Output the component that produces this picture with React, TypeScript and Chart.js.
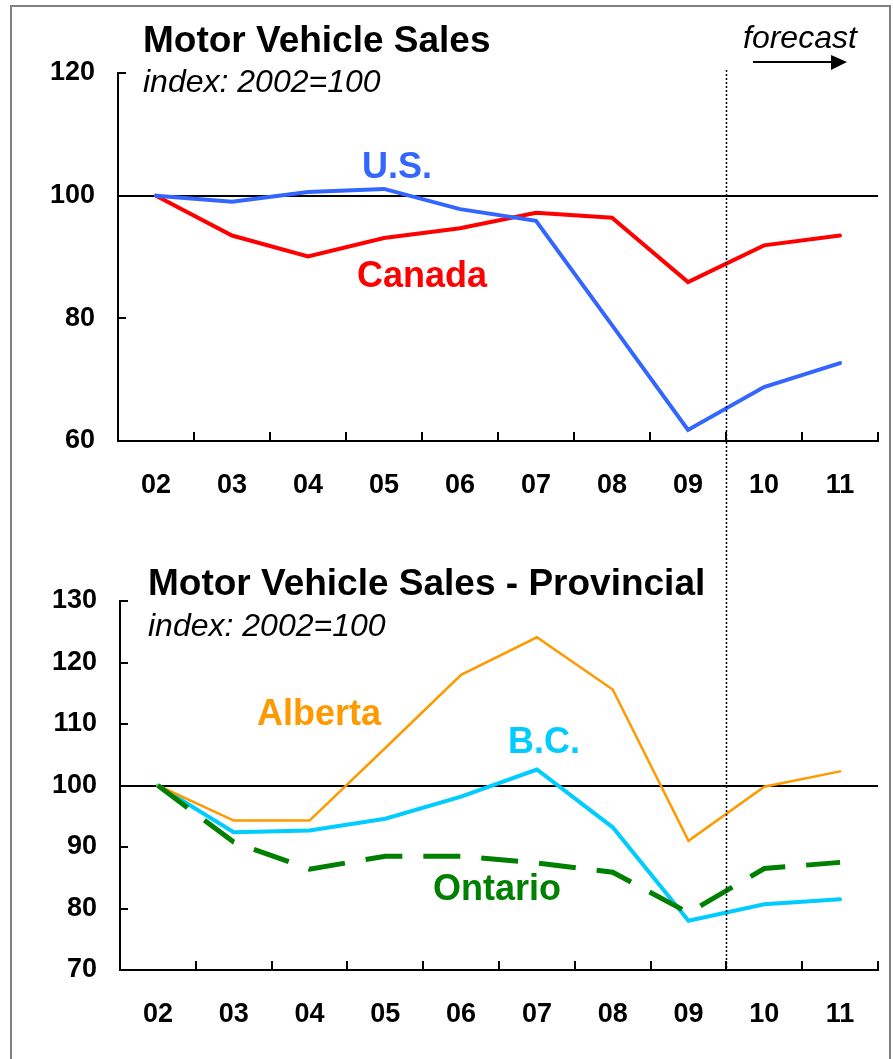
import React, { useEffect, useRef } from "react";
import { Chart, registerables } from "chart.js";

Chart.register(...registerables);

const years = ["02", "03", "04", "05", "06", "07", "08", "09", "10", "11"];
const usSales = [100, 99.0, 100.6, 101.1, 97.8, 95.9, 78.9, 61.8, 68.8, 72.7];
const canadaSales = [100, 93.5, 90.1, 93.1, 94.7, 97.2, 96.4, 85.9, 91.9, 93.5];
const albertaSales = [100, 94.3, 94.3, 106.1, 118.0, 124.1, 115.6, 91.0, 99.8, 102.3];
const bcSales = [100, 92.4, 92.7, 94.6, 98.2, 102.6, 93.2, 78.0, 80.7, 81.5];
const ontarioSales = [100, 90.8, 86.4, 88.5, 88.5, 87.4, 85.9, 79.3, 86.5, 87.5];
const topTicks = { min: 60, max: 120, step: 20 };
const provTicks = { min: 70, max: 130, step: 10 };
const forecastStartIndex = 8;

const FONT = '"Liberation Sans", Arial, sans-serif';
const BLUE = "#3366FF";
const RED = "#FF0000";
const ORANGE = "#FF9900";
const CYAN = "#00CCFF";
const GREEN = "#008000";

type TextItem = { text: string; x: number; y: number; font: string; color: string };

function makeDecor(texts: TextItem[], dottedTop: number | null, arrow: boolean) {
  return {
    id: "decor",
    afterDatasetsDraw(chart: any) {
      const ctx = chart.ctx;
      const xs = chart.scales.x;
      const area = chart.chartArea;
      ctx.save();
      const xd = Math.round((xs.getPixelForValue(forecastStartIndex - 1) + xs.getPixelForValue(forecastStartIndex)) / 2) + 0.5;
      ctx.strokeStyle = "#000";
      ctx.lineWidth = 1.5;
      ctx.setLineDash([2, 2]);
      ctx.beginPath();
      if (dottedTop !== null) {
        ctx.moveTo(xd, dottedTop);
        ctx.lineTo(xd, chart.height);
      } else {
        ctx.moveTo(xd, 0);
        ctx.lineTo(xd, area.bottom);
      }
      ctx.stroke();
      ctx.setLineDash([]);
      for (const t of texts) {
        ctx.font = t.font;
        ctx.fillStyle = t.color;
        ctx.textAlign = "left";
        ctx.textBaseline = "alphabetic";
        ctx.fillText(t.text, t.x, t.y);
      }
      if (arrow) {
        ctx.strokeStyle = "#000";
        ctx.fillStyle = "#000";
        ctx.lineWidth = 2;
        ctx.beginPath();
        ctx.moveTo(753, 62);
        ctx.lineTo(834, 62);
        ctx.stroke();
        ctx.beginPath();
        ctx.moveTo(831, 55);
        ctx.lineTo(847, 62);
        ctx.lineTo(831, 70);
        ctx.closePath();
        ctx.fill();
      }
      ctx.restore();
    },
  };
}

function makeConfig(
  datasets: any[],
  ticks: { min: number; max: number; step: number },
  axisWidth: number,
  topPad: number,
  plugin: any
) {
  return {
    type: "line",
    data: { labels: years, datasets },
    options: {
      responsive: false,
      animation: false,
      events: [],
      layout: { padding: { top: topPad, right: 15, left: 0, bottom: 0 } },
      plugins: { legend: { display: false }, tooltip: { enabled: false }, title: { display: false } },
      elements: { point: { radius: 0 }, line: { tension: 0 } },
      scales: {
        x: {
          type: "category",
          offset: true,
          afterFit: (s: any) => {
            s.height = 89;
          },
          grid: {
            offset: true,
            drawOnChartArea: false,
            drawTicks: true,
            tickLength: -9,
            tickColor: "#000",
            lineWidth: 2,
          },
          border: { display: true, color: "#000", width: 2 },
          ticks: {
            color: "#000",
            font: { family: FONT, size: 27, weight: "bold" },
            padding: 37,
            maxRotation: 0,
            autoSkip: false,
          },
        },
        y: {
          min: ticks.min,
          max: ticks.max,
          afterFit: (s: any) => {
            s.width = axisWidth;
          },
          grid: {
            drawOnChartArea: true,
            drawTicks: true,
            tickLength: -8,
            tickColor: "#000",
            lineWidth: 2,
            color: (c: any) => (c.tick && c.tick.value === 100 ? "#000" : "rgba(0,0,0,0)"),
          },
          border: { display: true, color: "#000", width: 2 },
          ticks: {
            stepSize: ticks.step,
            color: "#000",
            font: { family: FONT, size: 27, weight: "bold" },
            padding: 31,
          },
        },
      },
    },
    plugins: [plugin],
  };
}

export default function App() {
  const topRef = useRef<HTMLCanvasElement>(null);
  const botRef = useRef<HTMLCanvasElement>(null);

  useEffect(() => {
    const topTexts: TextItem[] = [
      { text: "Motor Vehicle Sales", x: 143, y: 52, font: `bold 37px ${FONT}`, color: "#000" },
      { text: "index: 2002=100", x: 143, y: 92, font: `italic 32px ${FONT}`, color: "#000" },
      { text: "forecast", x: 743, y: 48, font: `italic 32px ${FONT}`, color: "#000" },
      { text: "U.S.", x: 362, y: 178, font: `bold 36px ${FONT}`, color: BLUE },
      { text: "Canada", x: 357, y: 287, font: `bold 36px ${FONT}`, color: RED },
    ];
    const botTexts: TextItem[] = [
      { text: "Motor Vehicle Sales - Provincial", x: 148, y: 65, font: `bold 37px ${FONT}`, color: "#000" },
      { text: "index: 2002=100", x: 148, y: 106, font: `italic 32px ${FONT}`, color: "#000" },
      { text: "Alberta", x: 257, y: 195, font: `bold 36px ${FONT}`, color: ORANGE },
      { text: "B.C.", x: 508, y: 223, font: `bold 36px ${FONT}`, color: CYAN },
      { text: "Ontario", x: 433, y: 370, font: `bold 36px ${FONT}`, color: GREEN },
    ];

    const topChart = new Chart(
      topRef.current as HTMLCanvasElement,
      makeConfig(
        [
          { label: "U.S.", data: usSales, borderColor: BLUE, borderWidth: 4, borderCapStyle: "round", fill: false },
          { label: "Canada", data: canadaSales, borderColor: RED, borderWidth: 4, borderCapStyle: "round", fill: false },
        ],
        topTicks,
        118,
        73,
        makeDecor(topTexts, 70, true)
      ) as any
    );
    const botChart = new Chart(
      botRef.current as HTMLCanvasElement,
      makeConfig(
        [
          { label: "Ontario", data: ontarioSales, borderColor: GREEN, borderWidth: 5, borderDash: [37, 21], borderCapStyle: "butt", fill: false },
          { label: "Alberta", data: albertaSales, borderColor: ORANGE, borderWidth: 2.5, borderCapStyle: "round", fill: false },
          { label: "B.C.", data: bcSales, borderColor: CYAN, borderWidth: 4, borderCapStyle: "round", fill: false },
        ],
        provTicks,
        120,
        71,
        makeDecor(botTexts, null, false)
      ) as any
    );
    return () => {
      topChart.destroy();
      botChart.destroy();
    };
  }, []);

  return (
    <div style={{ position: "absolute", left: 0, top: 0, width: 893, height: 1059, background: "#fff", overflow: "hidden" }}>
      <div
        style={{
          position: "absolute",
          left: 10,
          top: 5,
          width: 881,
          height: 1100,
          border: "2px solid #808080",
          boxSizing: "border-box",
        }}
      />
      <canvas ref={topRef} width={893} height={530} style={{ position: "absolute", left: 0, top: 0, width: 893, height: 530 }} />
      <canvas ref={botRef} width={893} height={529} style={{ position: "absolute", left: 0, top: 530, width: 893, height: 529 }} />
    </div>
  );
}
